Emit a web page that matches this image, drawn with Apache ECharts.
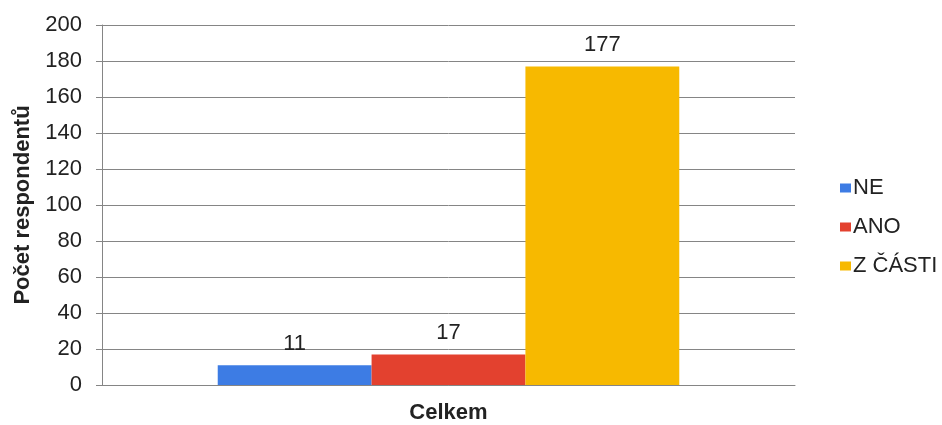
<!DOCTYPE html>
<html>
<head>
<meta charset="utf-8">
<script src="https://cdn.jsdelivr.net/npm/echarts@6/dist/echarts.min.js"></script>
<style>
html,body{margin:0;padding:0;background:#fff;}
#c{width:942px;height:425px;}
</style>
</head>
<body>
<div id="c"></div>
<script>
var categories = ['Celkem'];
var seriesNames = ['NE', 'ANO', 'Z ČÁSTI'];
var valuesNE = [11];
var valuesANO = [17];
var valuesZCasti = [177];
var yTicks = [0, 20, 40, 60, 80, 100, 120, 140, 160, 180, 200];
var colors = ['#3d7ce4', '#e3412f', '#f7b900'];

var font = 'Liberation Sans, Arial, sans-serif';
var chart = echarts.init(document.getElementById('c'), null, {renderer: 'canvas'});
var seriesData = [valuesNE, valuesANO, valuesZCasti];
chart.setOption({
  animation: false,
  backgroundColor: '#ffffff',
  textStyle: {fontFamily: font},
  grid: {left: 102, right: 147, top: 25, bottom: 40, containLabel: false},
  legend: {
    orient: 'vertical',
    left: 835,
    top: 172,
    itemWidth: 11,
    itemHeight: 9,
    itemGap: 17,
    icon: 'rect',
    data: seriesNames,
    textStyle: {fontSize: 22, color: '#222', fontFamily: font, padding: [0, 0, 0, -3]}
  },
  xAxis: {
    type: 'category',
    data: categories,
    axisLine: {show: true, lineStyle: {color: '#858585', width: 1}},
    axisTick: {show: false},
    axisLabel: {fontSize: 22, fontWeight: 'bold', color: '#222', margin: 17, fontFamily: font}
  },
  yAxis: {
    type: 'value',
    min: yTicks[0],
    max: yTicks[yTicks.length - 1],
    interval: yTicks[1] - yTicks[0],
    name: 'Počet respondentů',
    nameLocation: 'middle',
    nameGap: 68,
    nameTextStyle: {fontSize: 22, fontWeight: 'bold', color: '#222', fontFamily: font},
    axisLine: {show: true, lineStyle: {color: '#858585', width: 1}},
    axisTick: {show: true, length: 6, lineStyle: {color: '#858585'}},
    axisLabel: {fontSize: 22, color: '#222', margin: 20, fontFamily: font},
    splitLine: {show: true, lineStyle: {color: '#858585', width: 1}}
  },
  series: seriesNames.map(function (n, i) {
    return {
      name: n,
      type: 'bar',
      data: seriesData[i],
      barWidth: '22.2%',
      barGap: '0%',
      itemStyle: {color: colors[i]},
      label: {show: true, position: 'top', distance: 10, fontSize: 22, color: '#222', fontFamily: font}
    };
  })
});
</script>
</body>
</html>
